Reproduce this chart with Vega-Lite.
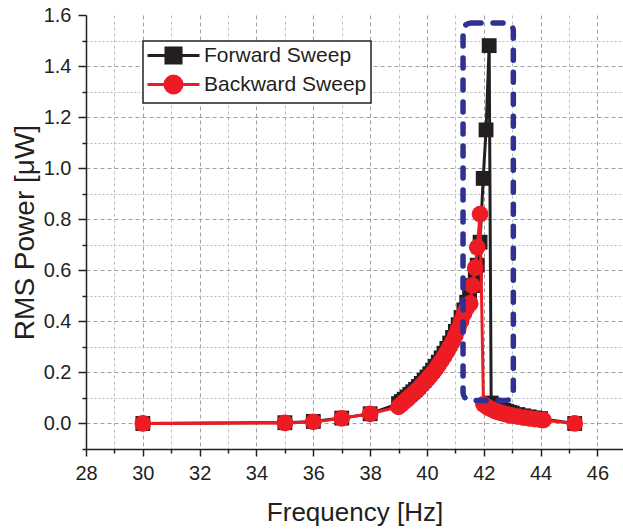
{
  "$schema": "https://vega.github.io/schema/vega-lite/v6.json",
  "width": 537,
  "height": 434,
  "autosize": {"type": "none"},
  "padding": {"left": 86, "top": 15, "right": 0, "bottom": 80},
  "background": "white",
  "config": {"view": {"stroke": null}, "font": "Liberation Sans"},
  "datasets": {
    "sweeps": [
      {"series": "Forward Sweep", "f": 30, "p": 0.0},
      {"series": "Forward Sweep", "f": 35, "p": 0.003},
      {"series": "Forward Sweep", "f": 36, "p": 0.008},
      {"series": "Forward Sweep", "f": 37, "p": 0.021},
      {"series": "Forward Sweep", "f": 38, "p": 0.038},
      {"series": "Forward Sweep", "f": 39.0, "p": 0.078},
      {"series": "Forward Sweep", "f": 39.1, "p": 0.086},
      {"series": "Forward Sweep", "f": 39.2, "p": 0.095},
      {"series": "Forward Sweep", "f": 39.3, "p": 0.104},
      {"series": "Forward Sweep", "f": 39.4, "p": 0.114},
      {"series": "Forward Sweep", "f": 39.5, "p": 0.124},
      {"series": "Forward Sweep", "f": 39.6, "p": 0.134},
      {"series": "Forward Sweep", "f": 39.7, "p": 0.145},
      {"series": "Forward Sweep", "f": 39.8, "p": 0.157},
      {"series": "Forward Sweep", "f": 39.9, "p": 0.169},
      {"series": "Forward Sweep", "f": 40.0, "p": 0.182},
      {"series": "Forward Sweep", "f": 40.1, "p": 0.195},
      {"series": "Forward Sweep", "f": 40.2, "p": 0.209},
      {"series": "Forward Sweep", "f": 40.3, "p": 0.224},
      {"series": "Forward Sweep", "f": 40.4, "p": 0.24},
      {"series": "Forward Sweep", "f": 40.5, "p": 0.257},
      {"series": "Forward Sweep", "f": 40.6, "p": 0.275},
      {"series": "Forward Sweep", "f": 40.7, "p": 0.294},
      {"series": "Forward Sweep", "f": 40.8, "p": 0.315},
      {"series": "Forward Sweep", "f": 40.9, "p": 0.337},
      {"series": "Forward Sweep", "f": 41.0, "p": 0.361},
      {"series": "Forward Sweep", "f": 41.1, "p": 0.387},
      {"series": "Forward Sweep", "f": 41.2, "p": 0.415},
      {"series": "Forward Sweep", "f": 41.3, "p": 0.445},
      {"series": "Forward Sweep", "f": 41.4, "p": 0.475},
      {"series": "Forward Sweep", "f": 41.5, "p": 0.505},
      {"series": "Forward Sweep", "f": 41.6, "p": 0.54},
      {"series": "Forward Sweep", "f": 41.7, "p": 0.58},
      {"series": "Forward Sweep", "f": 41.77, "p": 0.62},
      {"series": "Forward Sweep", "f": 41.87, "p": 0.71},
      {"series": "Forward Sweep", "f": 41.98, "p": 0.96},
      {"series": "Forward Sweep", "f": 42.08, "p": 1.15},
      {"series": "Forward Sweep", "f": 42.19, "p": 1.48},
      {"series": "Forward Sweep", "f": 42.26, "p": 0.08},
      {"series": "Forward Sweep", "f": 42.35, "p": 0.072},
      {"series": "Forward Sweep", "f": 42.5, "p": 0.062},
      {"series": "Forward Sweep", "f": 42.6, "p": 0.057},
      {"series": "Forward Sweep", "f": 42.7, "p": 0.052},
      {"series": "Forward Sweep", "f": 42.8, "p": 0.048},
      {"series": "Forward Sweep", "f": 42.9, "p": 0.044},
      {"series": "Forward Sweep", "f": 43.0, "p": 0.041},
      {"series": "Forward Sweep", "f": 43.2, "p": 0.035},
      {"series": "Forward Sweep", "f": 43.4, "p": 0.03},
      {"series": "Forward Sweep", "f": 43.6, "p": 0.026},
      {"series": "Forward Sweep", "f": 43.8, "p": 0.022},
      {"series": "Forward Sweep", "f": 44.0, "p": 0.019},
      {"series": "Forward Sweep", "f": 45.2, "p": 0.0},
      {"series": "Backward Sweep", "f": 30, "p": 0.0},
      {"series": "Backward Sweep", "f": 35, "p": 0.002},
      {"series": "Backward Sweep", "f": 36, "p": 0.006},
      {"series": "Backward Sweep", "f": 37, "p": 0.02},
      {"series": "Backward Sweep", "f": 38, "p": 0.038},
      {"series": "Backward Sweep", "f": 39.0, "p": 0.065},
      {"series": "Backward Sweep", "f": 39.1, "p": 0.075},
      {"series": "Backward Sweep", "f": 39.2, "p": 0.085},
      {"series": "Backward Sweep", "f": 39.3, "p": 0.095},
      {"series": "Backward Sweep", "f": 39.4, "p": 0.105},
      {"series": "Backward Sweep", "f": 39.5, "p": 0.115},
      {"series": "Backward Sweep", "f": 39.6, "p": 0.125},
      {"series": "Backward Sweep", "f": 39.7, "p": 0.135},
      {"series": "Backward Sweep", "f": 39.8, "p": 0.148},
      {"series": "Backward Sweep", "f": 39.9, "p": 0.16},
      {"series": "Backward Sweep", "f": 40.0, "p": 0.172},
      {"series": "Backward Sweep", "f": 40.1, "p": 0.185},
      {"series": "Backward Sweep", "f": 40.2, "p": 0.198},
      {"series": "Backward Sweep", "f": 40.3, "p": 0.212},
      {"series": "Backward Sweep", "f": 40.4, "p": 0.228},
      {"series": "Backward Sweep", "f": 40.5, "p": 0.245},
      {"series": "Backward Sweep", "f": 40.6, "p": 0.262},
      {"series": "Backward Sweep", "f": 40.7, "p": 0.28},
      {"series": "Backward Sweep", "f": 40.8, "p": 0.3},
      {"series": "Backward Sweep", "f": 40.9, "p": 0.32},
      {"series": "Backward Sweep", "f": 41.0, "p": 0.345},
      {"series": "Backward Sweep", "f": 41.1, "p": 0.37},
      {"series": "Backward Sweep", "f": 41.2, "p": 0.4},
      {"series": "Backward Sweep", "f": 41.3, "p": 0.43},
      {"series": "Backward Sweep", "f": 41.4, "p": 0.452},
      {"series": "Backward Sweep", "f": 41.52, "p": 0.47},
      {"series": "Backward Sweep", "f": 41.6, "p": 0.54},
      {"series": "Backward Sweep", "f": 41.7, "p": 0.61},
      {"series": "Backward Sweep", "f": 41.77, "p": 0.69},
      {"series": "Backward Sweep", "f": 41.87, "p": 0.82},
      {"series": "Backward Sweep", "f": 41.99, "p": 0.075},
      {"series": "Backward Sweep", "f": 42.1, "p": 0.066},
      {"series": "Backward Sweep", "f": 42.2, "p": 0.059},
      {"series": "Backward Sweep", "f": 42.3, "p": 0.054},
      {"series": "Backward Sweep", "f": 42.4, "p": 0.049},
      {"series": "Backward Sweep", "f": 42.5, "p": 0.045},
      {"series": "Backward Sweep", "f": 42.6, "p": 0.042},
      {"series": "Backward Sweep", "f": 42.7, "p": 0.039},
      {"series": "Backward Sweep", "f": 42.8, "p": 0.036},
      {"series": "Backward Sweep", "f": 42.9, "p": 0.033},
      {"series": "Backward Sweep", "f": 43.0, "p": 0.031},
      {"series": "Backward Sweep", "f": 43.2, "p": 0.027},
      {"series": "Backward Sweep", "f": 43.4, "p": 0.023},
      {"series": "Backward Sweep", "f": 43.6, "p": 0.02},
      {"series": "Backward Sweep", "f": 43.8, "p": 0.017},
      {"series": "Backward Sweep", "f": 44.0, "p": 0.014},
      {"series": "Backward Sweep", "f": 44.1, "p": 0.013},
      {"series": "Backward Sweep", "f": 45.2, "p": 0.0}
    ],
    "box": [{"f": 41.27, "f2": 43.04, "p": 0.09, "p2": 1.569}]
  },
  "encoding": {
    "x": {
      "field": "f", "type": "quantitative",
      "scale": {"domain": [28, 46.9], "nice": false, "zero": false},
      "axis": {
        "title": "Frequency [Hz]",
        "values": [28, 29, 30, 31, 32, 33, 34, 35, 36, 37, 38, 39, 40, 41, 42, 43, 44, 45, 46],
        "labelExpr": "datum.value % 2 == 0 ? datum.value : ''",
        "labelFlush": false, "labelOverlap": false,
        "labelFontSize": 20, "labelColor": "#231f20", "labelPadding": 7,
        "titleFontSize": 26, "titleFontWeight": "normal", "titleColor": "#231f20", "titlePadding": 16,
        "domainColor": "#231f20", "domainWidth": 1.5,
        "tickColor": "#231f20", "tickWidth": 1.5,
        "tickSize": {"condition": {"test": "datum.value % 2 == 0", "value": 7}, "value": 4},
        "grid": true,
        "gridColor": {"condition": {"test": "datum.value % 2 == 0", "value": "#a0a0a0"}, "value": "#bdbdbd"},
        "gridDash": {"condition": {"test": "datum.value % 2 == 0", "value": [4, 3]}, "value": [3, 3]},
        "gridOpacity": {"condition": {"test": "datum.value < 28.5", "value": 0}, "value": 1},
        "gridWidth": 1
      }
    },
    "y": {
      "field": "p", "type": "quantitative",
      "scale": {"domain": [-0.1, 1.6], "nice": false, "zero": false},
      "axis": {
        "title": "RMS Power [μW]",
        "values": [-0.1, 0, 0.1, 0.2, 0.3, 0.4, 0.5, 0.6, 0.7, 0.8, 0.9, 1.0, 1.1, 1.2, 1.3, 1.4, 1.5, 1.6],
        "labelExpr": "(round(datum.value*10) % 2 == 0 && datum.value > -0.05) ? format(datum.value, '.1f') : ''",
        "labelFlush": false, "labelOverlap": false,
        "labelFontSize": 20, "labelColor": "#231f20", "labelPadding": 7,
        "titleFontSize": 28, "titleFontWeight": "normal", "titleColor": "#231f20", "titlePadding": 4,
        "domainColor": "#231f20", "domainWidth": 1.5,
        "tickColor": "#231f20", "tickWidth": 1.5,
        "tickSize": {"condition": {"test": "round(datum.value*10) % 2 == 0 && datum.value > -0.05", "value": 8}, "value": 4},
        "grid": true,
        "gridColor": {"condition": {"test": "round(datum.value*10) % 2 == 0", "value": "#a0a0a0"}, "value": "#bdbdbd"},
        "gridDash": {"condition": {"test": "round(datum.value*10) % 2 == 0", "value": [4, 3]}, "value": [2, 2]},
        "gridOpacity": {"condition": {"test": "datum.value < -0.05 || datum.value > 1.55", "value": 0}, "value": 1},
        "gridWidth": 1
      }
    },
    "color": {"field": "series", "type": "nominal",
      "scale": {"domain": ["Forward Sweep", "Backward Sweep"], "range": ["#231f20", "#ed1c24"]},
      "legend": {
        "title": null,
        "orient": "none", "legendX": 57, "legendY": 26,
        "padding": 4,
        "strokeColor": "#231f20",
        "fillColor": "white",
        "labelFontSize": 21, "labelColor": "#231f20", "labelFont": "Liberation Sans",
        "labelLimit": 260,
        "symbolSize": 300,
        "symbolOffset": 16,
        "labelOffset": 20,
        "rowPadding": 0,
        "encode": {
          "legend": {"update": {"strokeWidth": {"value": 1.5}}},
          "symbols": {"update": {
            "shape": {"signal": "datum.value === 'Forward Sweep' ? 'M-3,0H3M-0.87,-0.87H0.87V0.87H-0.87Z' : 'M-3,0H3M0.98,0A0.98,0.98,0,1,1,-0.98,0A0.98,0.98,0,1,1,0.98,0'"},
            "fill": {"scale": "color", "field": "value"},
            "stroke": {"scale": "color", "field": "value"},
            "strokeWidth": {"value": 3},
            "opacity": {"value": 1},
            "fillOpacity": {"value": 1},
            "strokeOpacity": {"value": 1}
          }}
        }
      }
    }
  },
  "layer": [
    {
      "data": {"name": "sweeps"},
      "transform": [{"filter": "datum.series == 'Forward Sweep'"}],
      "mark": {"type": "line", "strokeWidth": 3}
    },
    {
      "data": {"name": "sweeps"},
      "transform": [{"filter": "datum.series == 'Forward Sweep'"}],
      "mark": {"type": "point", "shape": "square", "filled": true, "size": 220, "opacity": 1}
    },
    {
      "data": {"name": "sweeps"},
      "transform": [{"filter": "datum.series == 'Backward Sweep'"}],
      "mark": {"type": "line", "strokeWidth": 3}
    },
    {
      "data": {"name": "sweeps"},
      "transform": [{"filter": "datum.series == 'Backward Sweep'"}],
      "mark": {"type": "point", "shape": "circle", "filled": true, "size": 280, "opacity": 1}
    },
    {
      "data": {"name": "box"},
      "mark": {"type": "rect", "fill": null, "fillOpacity": 0, "stroke": "#2e3192", "strokeWidth": 5.5, "strokeDash": [10, 12], "strokeCap": "round", "cornerRadius": 8},
      "encoding": {
        "x2": {"field": "f2"},
        "y2": {"field": "p2"},
        "color": null
      }
    }
  ]
}
